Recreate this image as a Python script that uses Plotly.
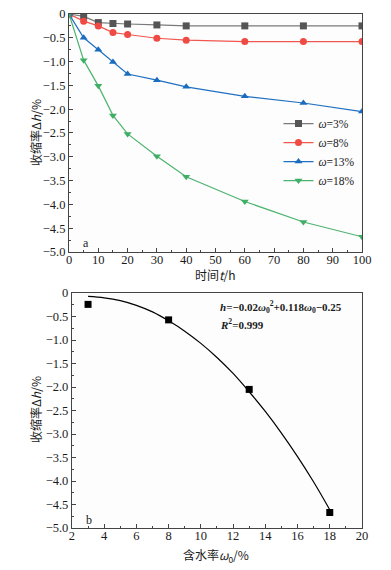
import plotly.graph_objects as go

# ---- data (panel a) ----
time_h = [0, 5, 10, 15, 20, 30, 40, 60, 80, 100]
w3 = [0, -0.05, -0.18, -0.20, -0.21, -0.23, -0.25, -0.25, -0.25, -0.25]
w8 = [0, -0.15, -0.25, -0.39, -0.43, -0.51, -0.55, -0.58, -0.58, -0.58]
w13 = [0, -0.50, -0.75, -1.01, -1.26, -1.39, -1.53, -1.73, -1.87, -2.05]
w18 = [0, -0.97, -1.51, -2.13, -2.52, -2.99, -3.42, -3.94, -4.37, -4.68]
series_names = ["<i>ω</i>=3%", "<i>ω</i>=8%", "<i>ω</i>=13%", "<i>ω</i>=18%"]

# ---- data (panel b) ----
water = [3, 8, 13, 18]
final_shrink = [-0.24, -0.57, -2.05, -4.67]
fit_x = [3, 4, 5, 6, 7, 8, 9, 10, 11, 12, 13, 14, 15, 16, 17, 18]
fit_y = [-0.07, -0.10, -0.16, -0.26, -0.40, -0.59, -0.81, -1.07, -1.37, -1.71,
         -2.10, -2.52, -2.98, -3.48, -4.02, -4.61]

y_ticks = [0, -0.5, -1.0, -1.5, -2.0, -2.5, -3.0, -3.5, -4.0, -4.5, -5.0]
y_ticktext = ["0", "−0.5", "−1.0", "−1.5", "−2.0", "−2.5", "−3.0", "−3.5", "−4.0", "−4.5", "−5.0"]

line_cols = ["#7a7a7a", "#f0574f", "#1f70c1", "#4db36f"]
mark_cols = ["#555555", "#ef4a43", "#1a6cc0", "#3fae66"]
symbols = ["square", "circle", "triangle-up", "triangle-down"]

fig = go.Figure()
for ys, nm, lc, mc, sy in zip([w3, w8, w13, w18], series_names, line_cols, mark_cols, symbols):
    fig.add_trace(go.Scatter(
        x=time_h, y=ys, name=nm, mode="lines+markers",
        line=dict(color=lc, width=1.2),
        marker=dict(symbol=sy, size=7, color=mc),
        xaxis="x", yaxis="y"))

fig.add_trace(go.Scatter(
    x=fit_x, y=fit_y, mode="lines", line=dict(color="black", width=1.2, shape="spline"),
    showlegend=False, xaxis="x2", yaxis="y2"))
fig.add_trace(go.Scatter(
    x=water, y=final_shrink, mode="markers",
    marker=dict(symbol="square", size=7, color="black"),
    showlegend=False, xaxis="x2", yaxis="y2"))

serif = "Liberation Serif"
cjk = "Noto Sans CJK SC"
txt = "#1a1a1a"
tickfont = dict(family=serif, size=12.5, color=txt)
axis_common = dict(
    showline=True, linecolor="#444", linewidth=1.2, mirror=True,
    ticks="inside", ticklen=4, tickcolor="#444", tickwidth=1,
    showgrid=False, zeroline=False, tickfont=tickfont, automargin=False,
)

W, H = 391, 570
ML, MR, MT, MB = 69, 29, 14, 42
PW, PH = W - ML - MR, H - MT - MB


def px_x(px):
    return (px - ML) / PW


def px_y(py):
    return 1 - (py - MT) / PH


def title_ann(text, xpx, ypx, angle=0):
    return dict(text=text, x=px_x(xpx), y=px_y(ypx), xref="paper", yref="paper",
                xanchor="center", yanchor="middle", textangle=angle, showarrow=False,
                font=dict(family=cjk, size=12, color=txt))


fig.update_layout(
    width=W, height=H,
    margin=dict(l=ML, r=MR, t=MT, b=MB),
    paper_bgcolor="white", plot_bgcolor="#fdfdfd",
    showlegend=True,
    legend=dict(x=0.715, y=0.815, xanchor="left", yanchor="top",
                bgcolor="rgba(0,0,0,0)", font=dict(family=serif, size=11.5, color=txt),
                itemwidth=30, tracegroupgap=0),
    xaxis=dict(domain=[0, 1], anchor="y", range=[0, 100], tickvals=list(range(0, 101, 10)),
               minor=dict(ticks="inside", ticklen=2, dtick=5, tickcolor="#444"),
               ticklabelstandoff=-4, **axis_common),
    yaxis=dict(domain=[0.537, 1], anchor="x", range=[-5, 0], tickvals=y_ticks, ticktext=y_ticktext,
               minor=dict(ticks="inside", ticklen=2, dtick=0.25, tickcolor="#444"),
               **axis_common),
    xaxis2=dict(domain=[0.01, 1], anchor="y2", range=[2, 20], tickvals=list(range(2, 21, 2)),
                minor=dict(ticks="inside", ticklen=2, dtick=1, tickcolor="#444"),
                ticklabelstandoff=-4, **axis_common),
    yaxis2=dict(domain=[0, 0.457], anchor="x2", range=[-5, 0], tickvals=y_ticks, ticktext=y_ticktext,
                minor=dict(ticks="inside", ticklen=2, dtick=0.25, tickcolor="#444"),
                **axis_common),
    annotations=[
        title_ann("时间<i>t</i>/h", 215, 274),
        title_ann("含水率<i>ω</i><sub>0</sub>/%", 216, 555),
        title_ann("收缩率Δ<i>h</i>/%", 35, 133, -90),
        title_ann("收缩率Δ<i>h</i>/%", 35, 410, -90),
        # panel labels
        dict(text="a", x=0.04, y=-4.82, xref="x domain", yref="y", showarrow=False,
             font=dict(family=serif, size=12, color=txt)),
        dict(text="b", x=0.04, y=-4.82, xref="x2 domain", yref="y2", showarrow=False,
             font=dict(family=serif, size=12, color=txt)),
        dict(text="<b><i>h</i>=−0.02<i>ω</i><sub>0</sub><sup>2</sup>+0.118<i>ω</i><sub>0</sub>−0.25</b>",
             x=0.505, y=0.985, xref="x2 domain", yref="y2 domain", xanchor="left", yanchor="top",
             showarrow=False, font=dict(family=serif, size=11, color=txt)),
        dict(text="<b><i>R</i><sup>2</sup>=0.999</b>",
             x=0.505, y=0.905, xref="x2 domain", yref="y2 domain", xanchor="left", yanchor="top",
             showarrow=False, font=dict(family=serif, size=11, color=txt)),
    ],
)

fig.write_html("out.html", config={"displayModeBar": False})

# remove default page margins so the 391x570 figure fills the window exactly
with open("out.html", "r", encoding="utf-8") as f:
    html = f.read()
html = html.replace("<head>", "<head><style>html,body{margin:0;padding:0;overflow:hidden;}</style>", 1)
with open("out.html", "w", encoding="utf-8") as f:
    f.write(html)
